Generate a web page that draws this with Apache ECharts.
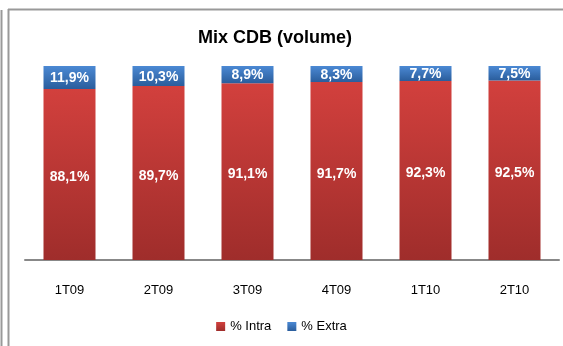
<!DOCTYPE html>
<html>
<head>
<meta charset="utf-8">
<script src="https://cdn.jsdelivr.net/npm/echarts@6/dist/echarts.min.js"></script>
<style>html,body{margin:0;padding:0;background:#fff}#c{width:563px;height:346px}</style>
</head>
<body>
<div id="c"></div>
<script>
var categories = ['1T09', '2T09', '3T09', '4T09', '1T10', '2T10'];
var intra = [88.1, 89.7, 91.1, 91.7, 92.3, 92.5];
var extra = [11.9, 10.3, 8.9, 8.3, 7.7, 7.5];
var seriesNames = ['% Intra', '% Extra'];

var chart = echarts.init(document.getElementById('c'), null, {renderer: 'canvas'});
var fontFam = '"Liberation Sans", "DejaVu Sans", sans-serif';
function fmt(p) { return p.value.toFixed(1).replace('.', ',') + '%'; }
var redGrad = new echarts.graphic.LinearGradient(0, 0, 0, 1, [
  {offset: 0, color: '#d2403d'}, {offset: 1, color: '#9f2d2b'}]);
var blueGrad = new echarts.graphic.LinearGradient(0, 0, 0, 1, [
  {offset: 0, color: '#4b89d4'}, {offset: 1, color: '#2a5d9c'}]);

chart.setOption({
  animation: false,
  backgroundColor: '#fff',
  title: {
    text: 'Mix CDB (volume)',
    left: 270, top: 24, textAlign: 'center',
    textStyle: {fontFamily: fontFam, fontWeight: 'bold', fontSize: 18, color: '#000'}
  },
  legend: {
    data: seriesNames,
    bottom: 8, left: 'center',
    itemWidth: 9, itemHeight: 9, itemGap: 16,
    icon: 'rect',
    textStyle: {fontFamily: fontFam, fontSize: 13, color: '#000'}
  },
  grid: {left: 25, right: 4, top: 66, bottom: 86, containLabel: false},
  xAxis: {
    type: 'category', data: categories,
    axisLine: {lineStyle: {color: '#888', width: 2}},
    axisTick: {show: false},
    axisLabel: {fontFamily: fontFam, fontSize: 13, color: '#000', margin: 24}
  },
  yAxis: {type: 'value', min: 0, max: 100, show: false, splitLine: {show: false}},
  series: [
    {name: seriesNames[0], type: 'bar', stack: 't', data: intra, barWidth: 52,
     itemStyle: {color: redGrad},
     label: {show: true, position: 'inside', offset: [0, 3], formatter: fmt, color: '#fff', fontWeight: 'bold', fontSize: 14, fontFamily: fontFam}},
    {name: seriesNames[1], type: 'bar', stack: 't', data: extra, barWidth: 52,
     itemStyle: {color: blueGrad},
     label: {show: true, position: 'inside', offset: [0, 1], formatter: fmt, color: '#fff', fontWeight: 'bold', fontSize: 14, fontFamily: fontFam}}
  ],
  graphic: [
    {type: 'line', shape: {x1: 1.5, y1: 10, x2: 1.5, y2: 346}, style: {stroke: '#999', lineWidth: 2}},
    {type: 'line', shape: {x1: 8.5, y1: 9, x2: 8.5, y2: 346}, style: {stroke: '#999', lineWidth: 2}},
    {type: 'line', shape: {x1: 8, y1: 9.5, x2: 563, y2: 9.5}, style: {stroke: '#999', lineWidth: 2, lineCap: 'butt'}}
  ]
});
</script>
</body>
</html>
